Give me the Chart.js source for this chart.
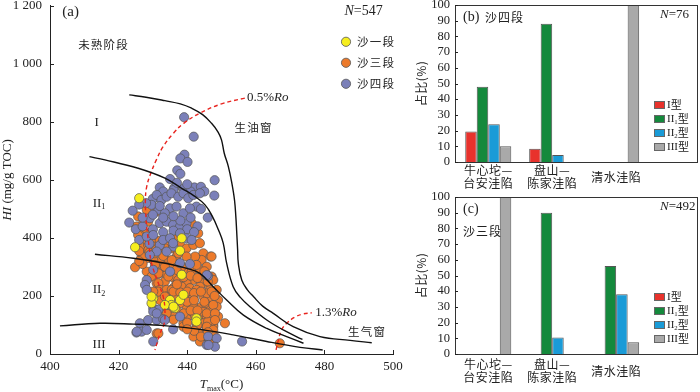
<!DOCTYPE html>
<html>
<head>
<meta charset="utf-8">
<script src="https://cdn.jsdelivr.net/npm/chart.js@4.4.0/dist/chart.umd.min.js"></script>
<style>
  html, body { margin: 0; padding: 0; background: #fff; }
  body { width: 700px; height: 392px; position: relative; overflow: hidden; }
  .box { position: absolute; }
</style>
</head>
<body>
<div class="box" style="left:0;top:-10px;width:420px;height:402px"><canvas id="hiTmax"></canvas></div>
<div class="box" style="left:400px;top:-10px;width:300px;height:200px"><canvas id="es4"></canvas></div>
<div class="box" style="left:400px;top:180px;width:300px;height:212px"><canvas id="es3"></canvas></div>
<script>
// ---------- (a) HI vs Tmax ----------
// scatter points [Tmax, HI]
var sha1 = [[426,537],[424.8,368],[437.9,356],[438.4,399],[438.4,273],[430.1,192],[429.6,175],[435,186],
  [435.4,169],[437.9,186],[438.9,204],[436.4,158],[433.5,169],[429.6,198],[442.7,123],[442.7,112],[436,163]];

var sha3 = [[425.7,474],[427.2,451],[428.2,497],[428.6,456],[431.1,491],[429.6,422],[427.7,416],[425.2,439],
  [441.3,451],[443.2,416],[426.2,410],[425.7,410],[426.7,382],[436.4,405],[434.5,382],[432.6,364],
  [427.2,370],[428.6,376],[430.6,382],[432,370],[433.5,364],[435.9,364],[437.9,376],[439.8,364],[441.8,376],
  [443.7,382],[444.7,347],[446.8,336],[444.2,324],[442.3,336],[439.8,336],[436.9,336],[434,324],[432,318],
  [430.1,324],[428.2,330],[426.7,336],[424.8,299],[428.2,284],[429.6,267],[432,278],[434,273],[435.9,264],
  [439.3,284],[441.3,284],[443.7,290],[445.7,301],[447.1,264],[444.7,255],[441.8,255],[439.8,244],[436.9,244],
  [433.5,250],[431.1,244],[435.4,301],[438.4,301],[442.7,307],[433,301],[430.6,307],[427.2,336],[428.7,359],
  [430.6,347],[437.4,347],[435.5,324],[433.5,301],[431.6,278],[434.5,267],[436.9,290],[437.4,255],[431.6,244],
  [447.1,336],[447.1,267],[444.7,244],
  [432,221],[434,221],[435.9,227],[438.4,232],[440.8,227],[443.7,232],[446.6,221],[432,186],[434,198],
  [439.8,198],[441.8,198],[444.7,198],[446.6,186],[433,152],[439.8,163],[441.8,169],[444.2,163],[446.1,163],
  [447.6,152],[440.8,140],[443.7,135],[445.7,129],[447.6,123],[438.9,106],[444.7,106],[447.6,100],[451,106],
  [431.1,71],[438.9,94],[443.7,71],[445.7,83],[447.6,94],[444.2,48],[447.6,43],[467,37],[443.7,43],
  [435.9,198],[437.9,175],[442.7,221],[445.7,209],[448.6,221],[449,186],[447.6,255],[431.6,215],[435,158],
  [442.3,129],[439.8,123],[445.7,60],[441.8,60],[442.7,94],[446.1,112],[449,129],[448.6,163],[444.7,146],
  [435.5,221],[433.5,198],[447.1,215],[445.2,175],[447.6,169],[445.7,140],[448.1,140],[448.1,117],
  [445.7,94],[447.6,83],[446.2,60],[430.1,215],[431.6,71],
  [436,215],[438,212],[440,215],[442,210],[444,215],[437,240],[439,265],[441,270],[443,262],[445,285],
  [446,250],[429,350],[431,360],[433,338],[426,355],[428,395],[430,400],[432,390],[427,310],[426,320],
  [440,180],[442,185],[437,150],[439,140],[441,150],[443,150],[436,130],[445,180],[448,200],[434,140],
  [436,118],[440,108],[443,100],[446,75],[442,80],[440,85],[448,60],[444,60]];

var sha4 = [[439.1,816],[441.9,749],[439.2,687],[438,674],[440.1,662],[437.1,633],[438,621],[435,603],[448,599],
  [432,574],[436.2,572],[442.1,574],[444,576],[447.9,546],[433,560],[436,565],[439,570],[441,560],[430,535],
  [445,560],[437,590],[440,585],
  [431.1,548],[432.5,531],[434,542],[435.4,554],[437.4,542],[438.9,554],[440.3,537],[441.8,548],[443.7,554],
  [442.7,508],[431.6,497],[435,502],[436.9,508],[438.9,485],[440.8,502],[424.1,494],[423.1,453],[429.1,468],
  [432,451],[434,456],[435.9,445],[437.9,439],[439.8,451],[433.5,485],[429.6,514],
  [425,430],[427,440],[430,430],[433,420],[436,425],[438,460],[441,470],[443,440],[427,470],[430,480],
  [433,470],[436,475],[440,430],[442,420],[444,500],[446,470],[428,520],[432,510],[426,515],[429,380],
  [432,375],[436,370],
  [426,393],[428.2,405],[430.1,410],[433,393],[435,399],[435.9,382],[437.9,416],[439.8,399],[441.3,393],
  [431.1,353],[429.1,341],[434,353],[437.9,313],[440.8,310],[430.1,290],[435,284],[446.1,269],[445.7,272],
  [428.2,255],[427.7,238],[428.2,221],[430.1,158],[431.6,152],[434,169],[437.9,129],[426.2,106],[428.6,117],
  [431.1,117],[433,120],[425.2,74],[426.7,77],[428.2,83],[430.1,43],[435.9,85],[446.1,60],[448.6,54],
  [445.7,31],[448.1,25],[456,43],[430.1,146],[431.1,140],[433.5,117],[425.3,77],[446.2,31]];

// kerogen type boundaries and Ro lines [Tmax, HI]
var lineI = [[423.1,893],[428,885],[433.5,873],[438,862],[441.3,847],[444.5,825],[447.1,795],[449,765],[450,738],
  [450.8,692],[452,646],[453,590],[453.8,530],[454.2,470],[454.4,428],[454.7,360],[454.9,313],[455.9,255],
  [457.5,222],[459.3,198],[462,165],[465.1,140],[470.9,94],[478.7,60],[487.5,47],[493.8,39]];
var lineII1 = [[411.5,680],[416,669],[425.7,640],[433.5,606],[438.4,571],[442,545],[445.2,514],[447.3,475],
  [449.1,428],[450.5,382],[451.5,313],[453.4,232],[455.5,195],[458.3,163],[463.2,117],[468,83],[473.6,50]];
var lineII2 = [[413.1,344],[424.3,330],[434,312],[439.9,295],[443.7,278],[447.6,232],[451.5,186],[456.4,134],
  [463.2,88],[469,60],[473.9,37]];
var lineIII = [[402.9,97],[414.6,106],[424.3,103],[434,97],[443.7,85],[453.4,66],[463.2,43],[472.9,23],[479.5,14]];
var ro05 = [[456.8,882],[450,862],[443.7,830],[439,795],[436,761],[433,715],[431,669],[429.3,620],[428.2,577],
  [427.8,530],[428,470],[428.3,428],[428.9,370],[429.6,313],[431.6,244],[433,198],[433.5,152],[433.3,106],
  [432.1,71],[430.6,14]];
var ro13 = [[465.9,14],[466.6,48],[467.5,83],[469,106],[471.4,127],[473.8,138],[476.3,142]];

var seriesNames = ['沙一段', '沙三段', '沙四段'];
var seriesColors = ['#f6ee1e', '#ec7a2b', '#7b80b9'];

// ---------- (b)(c) bar panels ----------
var basins = [['牛心坨—', '台安洼陷'], ['盘山—', '陈家洼陷'], ['清水洼陷']];
var types = ['I型', 'II₁型', 'II₂型', 'III型'];
var typeColors = ['#e8322c', '#14893c', '#1a9bd7', '#a9a9a9'];
var es4I = [19.5, 8.5, 0];
var es4II1 = [48, 88, 0];
var es4II2 = [24, 4.5, 0];
var es4III = [10, 0, 100];
var es3I = [0, 0, 0];
var es3II1 = [0, 90, 56];
var es3II2 = [0, 10.5, 38];
var es3III = [100, 0, 7.5];

var SERIF = "'Liberation Serif', 'Noto Sans CJK SC', serif";
var CJK = "'Noto Sans CJK SC', 'Liberation Serif', sans-serif";
var INK = '#222';

function toXY(arr) {
  return arr.map(function (p) { return { x: p[0], y: p[1] }; });
}

// draw runs of text: [text, style] with style '' | 'i' | 'sub'
function drawRich(ctx, segs, x, y, size, align, family) {
  var parts = segs.map(function (s) {
    var fs = s[1] === 'sub' ? size * 0.62 : size;
    var font = (s[1] === 'i' ? 'italic ' : '') + fs + 'px ' + (family || SERIF);
    ctx.font = font;
    return { t: s[0], font: font, w: ctx.measureText(s[0]).width, dy: s[1] === 'sub' ? size * 0.32 : 0 };
  });
  var total = parts.reduce(function (a, p) { return a + p.w; }, 0);
  var cx = align === 'center' ? x - total / 2 : align === 'right' ? x - total : x;
  ctx.textAlign = 'left';
  ctx.textBaseline = 'middle';
  parts.forEach(function (p) { ctx.font = p.font; ctx.fillText(p.t, cx, y + p.dy); cx += p.w; });
  return total;
}

// 'II₁型' -> [['II',''],['1','sub'],['型','']]
function subSegs(str) {
  var out = [];
  for (var ch of str) {
    var c = ch.charCodeAt(0);
    var isSub = c >= 0x2080 && c <= 0x2089;
    var t = isSub ? String(c - 0x2080) : ch;
    var st = isSub ? 'sub' : '';
    if (out.length && out[out.length - 1][1] === st) out[out.length - 1][0] += t;
    else out.push([t, st]);
  }
  return out;
}

function cjk(ctx, text, x, y, size, align, spacing) {
  ctx.font = size + 'px ' + CJK;
  ctx.letterSpacing = (spacing || 0) + 'px';
  ctx.textAlign = align || 'left';
  ctx.textBaseline = 'middle';
  ctx.fillText(text, x, y);
  ctx.letterSpacing = '0px';
}

function inwardTicks(ctx, chart, len) {
  var a = chart.chartArea, sx = chart.scales.x, sy = chart.scales.y;
  ctx.strokeStyle = '#222';
  ctx.lineWidth = 1;
  ctx.beginPath();
  sy.ticks.forEach(function (t) {
    var p = Math.round(sy.getPixelForValue(t.value)) + 0.5;
    ctx.moveTo(a.left, p); ctx.lineTo(a.left + len, p);
  });
  if (chart.canvas.id === 'hiTmax') {
    sx.ticks.forEach(function (t) {
      var p = Math.round(sx.getPixelForValue(t.value)) + 0.5;
      ctx.moveTo(p, a.bottom); ctx.lineTo(p, a.bottom - len);
    });
  }
  ctx.stroke();
}

var notesA = {
  id: 'notesA',
  afterDraw: function (chart) {
    var ctx = chart.ctx, a = chart.chartArea;
    var px = function (v) { return chart.scales.x.getPixelForValue(v); };
    var py = function (v) { return chart.scales.y.getPixelForValue(v); };
    ctx.save();
    inwardTicks(ctx, chart, 4);
    ctx.fillStyle = INK;
    drawRich(ctx, [['(a)', '']], px(403.6), py(1178), 15, 'left');
    drawRich(ctx, [['N', 'i'], ['=547', '']], px(497), py(1180), 14, 'right');
    cjk(ctx, '未熟阶段', px(408.2), py(1066), 11.5, 'left', 1.2);
    drawRich(ctx, [['I', '']], px(413.6), py(798), 13, 'center');
    drawRich(ctx, [['II', ''], ['1', 'sub']], px(414.3), py(520), 13, 'center');
    drawRich(ctx, [['II', ''], ['2', 'sub']], px(414.3), py(221), 13, 'center');
    drawRich(ctx, [['III', '']], px(414.3), py(34), 13, 'center');
    cjk(ctx, '生油窗', px(453.8), py(780), 11.5, 'left', 1.2);
    cjk(ctx, '生气窗', px(486.9), py(76), 11.5, 'left', 1.2);
    drawRich(ctx, [['0.5%', ''], ['Ro', 'i']], px(457.4), py(884), 13, 'left');
    drawRich(ctx, [['1.3%', ''], ['Ro', 'i']], px(477.3), py(142), 13, 'left');

    // legend
    seriesNames.forEach(function (n, i) {
      var lx = px(486.3), ly = py(1076) + i * 21;
      ctx.beginPath();
      ctx.arc(lx, ly, 4.6, 0, Math.PI * 2);
      ctx.fillStyle = seriesColors[i];
      ctx.fill();
      ctx.strokeStyle = '#555';
      ctx.lineWidth = 0.8;
      ctx.stroke();
      ctx.fillStyle = INK;
      cjk(ctx, n, lx + 11, ly, 11.5, 'left', 1.2);
    });

    // axis titles
    ctx.save();
    ctx.translate(8, (a.top + a.bottom) / 2);
    ctx.rotate(-Math.PI / 2);
    drawRich(ctx, [['HI', 'i'], [' (mg/g TOC)', '']], 0, 0, 13, 'center');
    ctx.restore();
    drawRich(ctx, [['T', 'i'], ['max', 'sub'], ['(°C)', '']], (a.left + a.right) / 2, a.bottom + 31, 13, 'center');
    ctx.restore();
  }
};

var curve = function (pts, color, dash) {
  return {
    data: toXY(pts), showLine: true, pointRadius: 0, borderColor: color, borderWidth: 1.4,
    borderDash: dash || [], tension: 0.4, fill: false
  };
};
var dots = function (pts, k) {
  return {
    label: seriesNames[k], data: toXY(pts), pointRadius: 4.6, borderWidth: 0.7,
    backgroundColor: seriesColors[k], borderColor: '#555', showLine: false
  };
};

new Chart(document.getElementById('hiTmax'), {
  type: 'scatter',
  data: {
    datasets: [
      curve(lineI, '#111'), curve(lineII1, '#111'), curve(lineII2, '#111'), curve(lineIII, '#111'),
      curve(ro05, '#e8241f', [4, 3]), curve(ro13, '#e8241f', [4, 3]),
      dots(sha1, 0), dots(sha4, 2), dots(sha3, 1)
    ]
  },
  options: {
    animation: false,
    responsive: true,
    maintainAspectRatio: false,
    layout: { padding: { top: 15, right: 27, left: 0, bottom: 0 } },
    plugins: { legend: { display: false }, tooltip: { enabled: false } },
    scales: {
      x: {
        type: 'linear', min: 400, max: 500,
        ticks: { stepSize: 20, font: { family: SERIF, size: 13 }, color: INK, padding: 5, maxRotation: 0 },
        grid: { display: false, drawTicks: false },
        border: { color: '#222', width: 1 },
        afterFit: function (s) { s.height = 38; }
      },
      y: {
        min: 0, max: 1200,
        ticks: {
          stepSize: 200, font: { family: SERIF, size: 13 }, color: INK, padding: 8,
          callback: function (v) { return v >= 1000 ? '1 ' + String(v).slice(1) : String(v); }
        },
        grid: { display: false, drawTicks: false },
        border: { color: '#222', width: 1 },
        afterFit: function (s) { s.width = 50; }
      }
    }
  },
  plugins: [notesA]
});

// ---------- bar panels ----------
function barPanel(id, sets, cfg) {
  var panel = {
    id: 'panel_' + id,
    afterDraw: function (chart) {
      var ctx = chart.ctx, a = chart.chartArea, sx = chart.scales.x;
      ctx.save();
      ctx.strokeStyle = '#333';
      ctx.lineWidth = 1;
      ctx.strokeRect(Math.round(a.left) + 0.5, Math.round(a.top) + 0.5,
        Math.round(a.right - a.left) - 1, Math.round(a.bottom - a.top));
      inwardTicks(ctx, chart, 3);
      ctx.fillStyle = INK;

      // category labels
      basins.forEach(function (b, i) {
        var cx = sx.getPixelForValue(i + 1);
        if (b.length === 1) cjk(ctx, b[0], cx, a.bottom + cfg.lab + 7, 12, 'center', 0.5);
        else b.forEach(function (line, j) { cjk(ctx, line, cx, a.bottom + cfg.lab + j * 13.5, 12, 'center', 0.5); });
      });

      // panel tag and N
      drawRich(ctx, [[cfg.tag, '']], a.left + 8, a.top + 12, 14, 'left');
      if (cfg.inline) cjk(ctx, cfg.member, a.left + 30, a.top + 12, 12, 'left', 1);
      else cjk(ctx, cfg.member, a.left + 8, a.top + 34, 12, 'left', 1);
      drawRich(ctx, [['N', 'i'], ['=' + cfg.n, '']], a.left + 205, a.top + 10, 13, 'left');

      // legend
      types.forEach(function (t, k) {
        var ly = a.bottom - 57 + k * 14;
        ctx.fillStyle = typeColors[k];
        ctx.fillRect(a.right - 44, ly - 4, 11, 8);
        ctx.strokeStyle = '#666';
        ctx.strokeRect(a.right - 44 + 0.5, ly - 4 + 0.5, 10, 7);
        ctx.fillStyle = INK;
        var segs = subSegs(t.replace('型', ''));
        var w = drawRich(ctx, segs, a.right - 31, ly, 11, 'left');
        cjk(ctx, '型', a.right - 31 + w, ly, 11, 'left');
      });

      // y title
      ctx.save();
      ctx.translate(21, (a.top + a.bottom) / 2);
      ctx.rotate(-Math.PI / 2);
      cjk(ctx, '占比(%)', 0, 0, 12, 'center', 0.5);
      ctx.restore();
      ctx.restore();
    }
  };

  return new Chart(document.getElementById(id), {
    type: 'bar',
    data: {
      datasets: types.map(function (t, k) {
        return {
          label: t,
          data: sets[k].map(function (v, i) { return { x: i + 1, y: v }; }),
          backgroundColor: typeColors[k],
          borderColor: '#555',
          borderWidth: 1,
          categoryPercentage: 0.72,
          barPercentage: 1
        };
      })
    },
    options: {
      animation: false,
      responsive: true,
      maintainAspectRatio: false,
      layout: { padding: { top: cfg.top, right: 2, left: 0, bottom: 0 } },
      plugins: { legend: { display: false }, tooltip: { enabled: false } },
      scales: {
        x: {
          type: 'linear', min: 0.48, max: 4.28, offset: false,
          afterBuildTicks: function (s) { s.ticks = basins.map(function (b, i) { return { value: i + 1 }; }); },
          afterFit: function (s) { s.height = cfg.xh; },
          ticks: { display: false },
          grid: { display: false, drawTicks: false },
          border: { display: false }
        },
        y: {
          min: 0, max: 100,
          ticks: {
            stepSize: 10, autoSkip: false, maxTicksLimit: 20,
            font: { family: SERIF, size: 12.5, lineHeight: 1 }, color: INK, padding: 5
          },
          grid: { display: false, drawTicks: false },
          border: { display: false },
          afterFit: function (s) { s.width = 55; }
        }
      }
    },
    plugins: [panel]
  });
}

barPanel('es4', [es4I, es4II1, es4II2, es4III], { tag: '(b)', member: '沙四段', inline: true, n: 76, top: 15, xh: 28, lab: 8 });
barPanel('es3', [es3I, es3II1, es3II2, es3III], { tag: '(c)', member: '沙三段', inline: false, n: 492, top: 17, xh: 38, lab: 10 });
</script>
</body>
</html>
